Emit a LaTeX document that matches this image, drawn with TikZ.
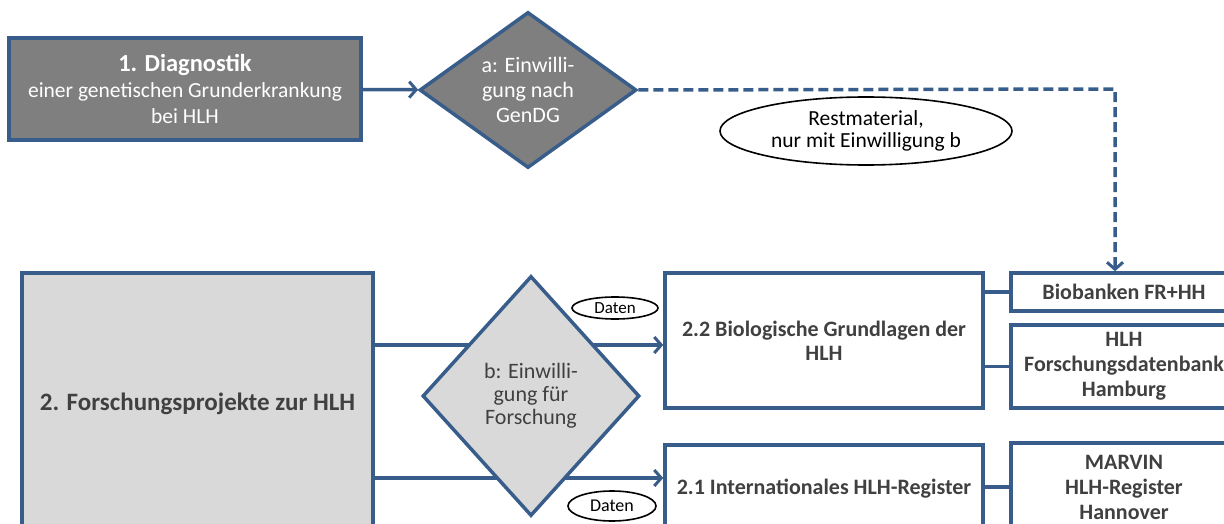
\documentclass[tikz,border=0pt]{standalone}
\usepackage{fontspec}
\setmainfont{Carlito}
\usetikzlibrary{shapes.geometric, arrows.meta, positioning, calc}
\definecolor{randblau}{RGB}{56,93,138}
\definecolor{dunkelgrau}{RGB}{127,127,127}
\definecolor{hellgrau}{RGB}{217,217,217}
\definecolor{schrift}{RGB}{64,64,64}
\tikzset{
  kasten/.style={draw=randblau, line width=3.5pt, rectangle, align=center, inner sep=0pt,
    text=schrift, font=\fontsize{22}{24}\selectfont\bfseries},
  raute/.style={draw=randblau, line width=3.5pt, diamond, align=center, inner sep=0pt,
    font=\fontsize{22}{25}\selectfont},
  etikett/.style={draw=black, line width=1.6pt, ellipse, fill=white, inner sep=0pt, align=center},
  pfeil/.style={draw=randblau, line width=3.5pt, -{Straight Barb[length=7pt,width=16pt,line width=3pt]}},
  linie/.style={draw=randblau, line width=3.5pt},
}
\begin{document}
\begin{tikzpicture}[x=1pt,y=-1pt]
\useasboundingbox (0,0) rectangle (1224,524);
% Diagnostik
\node[kasten, fill=dunkelgrau, text=white, minimum width=352, minimum height=102,
  font=\fontsize{21.5}{26}\selectfont] (diag) at (185,89)
  {{\fontsize{24.5}{27}\selectfont\bfseries 1. Diagnostik}\\einer genetischen Grunderkrankung\\bei HLH};
\node[raute, fill=dunkelgrau, text=white, minimum width=217, minimum height=156, aspect=1.39]
  (einwA) at (528,90) {a: Einwilli-\\gung nach\\GenDG};
\draw[pfeil] (diag) -- (einwA);
% Boxes
\node[kasten, fill=hellgrau, minimum width=351, minimum height=262,
  font=\fontsize{25}{28}\selectfont\bfseries] (forsch) at (197.5,404) {2. Forschungsprojekte zur HLH};
\node[kasten, minimum width=318, minimum height=135] (bio22) at (824,340.5)
  {2.2 Biologische Grundlagen der\\HLH};
\node[kasten, minimum width=318, minimum height=88] (reg21) at (824,489)
  {2.1 Internationales HLH-Register};
\node[kasten, minimum width=226, minimum height=38] (biobank) at (1124,292) {Biobanken FR+HH};
\node[kasten, minimum width=226, minimum height=83, font=\fontsize{22}{25}\selectfont\bfseries]
  (fdb) at (1124,366.5) {HLH\\Forschungsdatenbank\\Hamburg};
\node[kasten, minimum width=226, minimum height=88, font=\fontsize{22}{25}\selectfont\bfseries]
  (marvin) at (1124,487) {MARVIN\\HLH-Register\\Hannover};
% Restmaterial
\coordinate (knick) at (1115,89);
\draw[pfeil, dash pattern=on 10pt off 5pt] (einwA.east) -- (knick) -- (knick |- biobank.north);
\node[etikett, minimum width=292, minimum height=68, font=\fontsize{21.5}{22}\selectfont]
  (rest) at (866,131) {Restmaterial,\\nur mit Einwilligung b};
% Daten
\coordinate (oben) at ([yshift=-4.5pt]bio22.west);
\coordinate (unten) at ([yshift=11pt]reg21.west);
\draw[pfeil] (forsch.east |- oben) -- (oben);
\draw[pfeil] (forsch.east |- unten) -- (unten);
\node[raute, fill=hellgrau, text=schrift, minimum width=217, minimum height=240, aspect=0.9,
  font=\fontsize{22}{23}\selectfont] (einwB) at (531,396) {b: Einwilli-\\gung für\\Forschung};
\node[etikett, minimum width=86, minimum height=22, font=\fontsize{17}{18}\selectfont]
  (daten1) at (615,308) {Daten};
\node[etikett, minimum width=88, minimum height=30, font=\fontsize{18}{18}\selectfont]
  (daten2) at (612,506) {Daten};
% Verbindungen rechts
\draw[linie] (bio22.east |- biobank.west) -- (biobank.west);
\draw[linie] (bio22.east |- fdb.west) -- (fdb.west);
\draw[linie] (reg21.east |- marvin.west) -- (marvin.west);
\end{tikzpicture}
\end{document}
